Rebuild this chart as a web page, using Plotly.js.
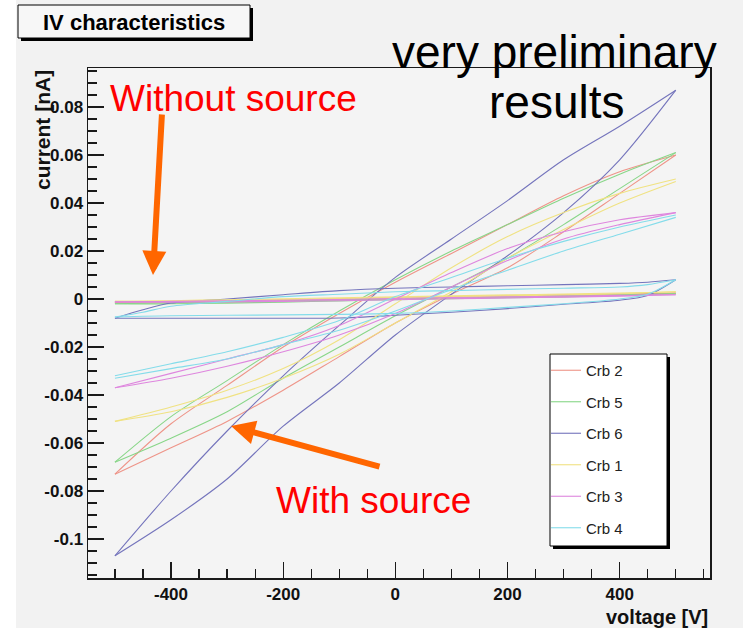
<!DOCTYPE html>
<html>
<head>
<meta charset="utf-8">
<script src="https://cdn.plot.ly/plotly-3.0.1.min.js"></script>
<style>
  html, body { margin: 0; padding: 0; background: #ffffff; }
  #chart { width: 743px; height: 628px; }
</style>
</head>
<body>
<div id="chart"></div>
<script>
// ---- sweep voltages [V] ----
const voltage     = [-500, -400, -300, -200, -100, 0, 100, 200, 300, 400, 500];
const voltageDark = [-500, -450, -400, -300, -200, -100, 0, 100, 200, 300, 400, 450, 500];

// ---- sensor names (legend order) ----
const sensors = ['Crb 2', 'Crb 5', 'Crb 6', 'Crb 1', 'Crb 3', 'Crb 4'];

// ---- current [nA] with source: branch A (one sweep direction), branch B (return) ----
const crb2SrcA = [-0.073, -0.052, -0.036, -0.020, -0.006, 0.007, 0.019, 0.031, 0.043, 0.053, 0.060];
const crb2SrcB = [-0.073, -0.062, -0.051, -0.038, -0.024, -0.010, 0.002, 0.013, 0.028, 0.044, 0.060];
const crb5SrcA = [-0.068, -0.049, -0.034, -0.019, -0.005, 0.008, 0.020, 0.031, 0.042, 0.052, 0.061];
const crb5SrcB = [-0.068, -0.058, -0.047, -0.033, -0.020, -0.007, 0.005, 0.017, 0.031, 0.046, 0.061];
const crb6SrcA = [-0.107, -0.080, -0.055, -0.032, -0.011, 0.009, 0.025, 0.041, 0.058, 0.072, 0.087];
const crb6SrcB = [-0.107, -0.092, -0.075, -0.053, -0.035, -0.015, 0.002, 0.018, 0.036, 0.058, 0.087];
const crb1SrcA = [-0.051, -0.045, -0.038, -0.029, -0.017, -0.002, 0.013, 0.026, 0.036, 0.044, 0.050];
const crb1SrcB = [-0.051, -0.047, -0.041, -0.033, -0.023, -0.010, 0.003, 0.017, 0.029, 0.040, 0.049];
const crb3SrcA = [-0.037, -0.031, -0.025, -0.019, -0.011, 0.000, 0.011, 0.021, 0.028, 0.033, 0.036];
const crb3SrcB = [-0.037, -0.033, -0.028, -0.022, -0.015, -0.006, 0.005, 0.016, 0.025, 0.031, 0.036];
const crb4SrcA = [-0.032, -0.027, -0.022, -0.016, -0.009, 0.001, 0.009, 0.017, 0.024, 0.030, 0.035];
const crb4SrcB = [-0.033, -0.029, -0.025, -0.019, -0.013, -0.005, 0.004, 0.012, 0.020, 0.027, 0.034];

// ---- current [nA] without source ----
const crb2DarkA = [-0.0015, -0.0013, -0.0011, -0.0007, -0.0003, 0.0001, 0.0005, 0.0009, 0.0013, 0.0017, 0.0021, 0.0023, 0.0025];
const crb2DarkB = [-0.0015, -0.0016, -0.0015, -0.0012, -0.0008, -0.0004, 0.0000, 0.0004, 0.0008, 0.0012, 0.0017, 0.0020, 0.0025];
const crb5DarkA = [-0.0020, -0.0018, -0.0016, -0.0012, -0.0008, -0.0003, 0.0002, 0.0006, 0.0010, 0.0014, 0.0018, 0.0020, 0.0022];
const crb5DarkB = [-0.0020, -0.0021, -0.0020, -0.0017, -0.0013, -0.0008, -0.0003, 0.0001, 0.0005, 0.0009, 0.0014, 0.0018, 0.0022];
const crb6DarkA = [-0.0080, -0.0045, -0.0017, 0.0000, 0.0018, 0.0035, 0.0045, 0.0050, 0.0055, 0.0060, 0.0065, 0.0070, 0.0080];
const crb6DarkB = [-0.0080, -0.0080, -0.0080, -0.0080, -0.0080, -0.0079, -0.0068, -0.0055, -0.0040, -0.0022, -0.0005, 0.0015, 0.0080];
const crb1DarkA = [-0.0010, -0.0009, -0.0007, -0.0003, 0.0001, 0.0005, 0.0009, 0.0013, 0.0017, 0.0021, 0.0025, 0.0027, 0.0030];
const crb1DarkB = [-0.0010, -0.0011, -0.0010, -0.0007, -0.0003, 0.0001, 0.0005, 0.0009, 0.0013, 0.0017, 0.0022, 0.0026, 0.0030];
const crb3DarkA = [-0.0012, -0.0011, -0.0010, -0.0008, -0.0005, -0.0002, 0.0002, 0.0006, 0.0009, 0.0012, 0.0015, 0.0017, 0.0018];
const crb3DarkB = [-0.0012, -0.0013, -0.0013, -0.0012, -0.0010, -0.0007, -0.0003, 0.0001, 0.0004, 0.0008, 0.0012, 0.0015, 0.0018];
const crb4DarkA = [-0.0075, -0.0055, -0.0030, -0.0010, 0.0010, 0.0020, 0.0030, 0.0035, 0.0040, 0.0045, 0.0050, 0.0060, 0.0080];
const crb4DarkB = [-0.0075, -0.0072, -0.0070, -0.0068, -0.0066, -0.0064, -0.0060, -0.0050, -0.0035, -0.0020, 0.0000, 0.0020, 0.0080];

// ---- axis tick labels ----
const xTickVals   = [-400, -200, 0, 200, 400];
const xTickLabels = ['-400', '-200', '0', '200', '400'];
const yTickVals   = [-0.1, -0.08, -0.06, -0.04, -0.02, 0, 0.02, 0.04, 0.06, 0.08];
const yTickLabels = ['-0.1', '-0.08', '-0.06', '-0.04', '-0.02', '0', '0.02', '0.04', '0.06', '0.08'];

// ---- line colours per sensor ----
const sensorColors = ['#ee9488', '#88d688', '#7474bc', '#f0e282', '#de86de', '#84dcea'];

const withSource    = [[crb2SrcA, crb2SrcB], [crb5SrcA, crb5SrcB], [crb6SrcA, crb6SrcB],
                       [crb1SrcA, crb1SrcB], [crb3SrcA, crb3SrcB], [crb4SrcA, crb4SrcB]];
const withoutSource = [[crb2DarkA, crb2DarkB], [crb5DarkA, crb5DarkB], [crb6DarkA, crb6DarkB],
                       [crb1DarkA, crb1DarkB], [crb3DarkA, crb3DarkB], [crb4DarkA, crb4DarkB]];

// one trace per sweep branch; the first branch of each sensor carries the legend entry
const traces = [];
sensors.forEach((name, i) => {
  const branches = [
    [voltage, withSource[i][0]], [voltage, withSource[i][1]],
    [voltageDark, withoutSource[i][0]], [voltageDark, withoutSource[i][1]]
  ];
  branches.forEach(([v, cur], k) => {
    traces.push({
      type: 'scatter', mode: 'lines', name: name, legendgroup: name,
      showlegend: k === 0,
      x: v, y: cur,
      line: {color: sensorColors[i], width: 1.1, shape: 'spline', smoothing: 0.8}
    });
  });
});

// ---- page geometry helpers (pixel -> paper fraction) ----
const W = 743, H = 628;
const M = {l: 88, r: 33, t: 68, b: 50};
const plotW = W - M.l - M.r;
const plotH = H - M.t - M.b;
const px = X => (X - M.l) / plotW;
const py = Y => (H - M.b - Y) / plotH;

const sans = 'Liberation Sans, Arial, Helvetica, sans-serif';
const axisFont = {family: sans, size: 17, color: '#111111', weight: 'bold'};
const frameColor = '#1a1a1a';

function box(x0, y0, x1, y1, fill, line) {
  return {
    type: 'rect', xref: 'paper', yref: 'paper', layer: 'above',
    x0: px(x0), x1: px(x1), y0: py(y1), y1: py(y0),
    fillcolor: fill, line: line ? {color: line, width: 1} : {width: 0}
  };
}

const layout = {
  width: W, height: H,
  margin: M,
  paper_bgcolor: '#f2f2f2',
  plot_bgcolor: '#f4f4f4',
  showlegend: true,
  xaxis: {
    range: [-548, 561],
    tickmode: 'array', tickvals: xTickVals, ticktext: xTickLabels,
    ticks: 'inside', ticklen: 16, tickwidth: 1.3, tickcolor: frameColor,
    minor: {tickmode: 'linear', tick0: 0, dtick: 50, ticks: 'inside', ticklen: 9, tickwidth: 1.2, tickcolor: frameColor, showgrid: false},
    tickfont: axisFont,
    showgrid: false, zeroline: false,
    showline: true, linecolor: frameColor, linewidth: 1.5, mirror: true
  },
  yaxis: {
    range: [-0.11625, 0.09625],
    tickmode: 'array', tickvals: yTickVals, ticktext: yTickLabels,
    ticks: 'inside', ticklen: 16, tickwidth: 1.3, tickcolor: frameColor,
    minor: {tickmode: 'linear', tick0: 0, dtick: 0.005, ticks: 'inside', ticklen: 9, tickwidth: 1.2, tickcolor: frameColor, showgrid: false},
    tickfont: axisFont,
    showgrid: false, zeroline: false,
    showline: true, linecolor: frameColor, linewidth: 1.5, mirror: true
  },
  // legend entries sit on the framed box drawn in shapes
  legend: {
    x: px(546), y: py(354), xanchor: 'left', yanchor: 'top',
    bgcolor: 'rgba(0,0,0,0)', borderwidth: 0,
    font: {family: sans, size: 15, color: '#222222'},
    traceorder: 'grouped', tracegroupgap: 9,
    itemwidth: 30
  },
  shapes: [
    // white slide margin at the left edge
    box(0, 0, 16, H, '#ffffff'),
    // title box with drop shadow
    box(21, 8, 253, 41, '#000000'),
    box(18, 5, 250, 38, '#f7f7f7', '#000000'),
    // legend frame with drop shadow
    box(553, 357, 670, 549, '#000000'),
    box(550, 354, 667, 546, '#ffffff', '#000000')
  ],
  annotations: [
    {text: 'IV characteristics', xref: 'paper', yref: 'paper', x: px(134), y: py(22),
     xanchor: 'center', yanchor: 'middle', showarrow: false,
     font: {family: sans, size: 22, color: '#000000', weight: 'bold'}},
    {text: 'very preliminary', xref: 'paper', yref: 'paper', x: px(554), y: py(52),
     xanchor: 'center', yanchor: 'middle', showarrow: false,
     font: {family: sans, size: 46, color: '#000000'}},
    {text: 'results', xref: 'paper', yref: 'paper', x: px(556), y: py(102),
     xanchor: 'center', yanchor: 'middle', showarrow: false,
     font: {family: sans, size: 46, color: '#000000'}},
    {text: 'Without source', xref: 'paper', yref: 'paper', x: px(233), y: py(98),
     xanchor: 'center', yanchor: 'middle', showarrow: false,
     font: {family: sans, size: 37, color: '#ff0000'}},
    {text: 'With source', xref: 'paper', yref: 'paper', x: px(373), y: py(500),
     xanchor: 'center', yanchor: 'middle', showarrow: false,
     font: {family: sans, size: 37, color: '#ff0000'}},
    {text: 'voltage [V]', xref: 'paper', yref: 'paper', x: px(710), y: py(617),
     xanchor: 'right', yanchor: 'middle', showarrow: false,
     font: {family: sans, size: 20, color: '#111111', weight: 'bold'}},
    {text: 'current [nA]', xref: 'paper', yref: 'paper', x: px(42), y: py(68),
     xanchor: 'center', yanchor: 'top', textangle: -90, showarrow: false,
     font: {family: sans, size: 21, color: '#111111', weight: 'bold'}},
    // orange pointers
    {text: '', xref: 'paper', yref: 'paper', x: px(153), y: py(275),
     showarrow: true, ax: 9, ay: -162, arrowhead: 2, arrowsize: 0.8, arrowwidth: 6,
     arrowcolor: '#ff6600', standoff: 0},
    {text: '', xref: 'paper', yref: 'paper', x: px(231), y: py(426),
     showarrow: true, ax: 150, ay: 41, arrowhead: 2, arrowsize: 0.8, arrowwidth: 6,
     arrowcolor: '#ff6600', standoff: 0}
  ]
};

Plotly.newPlot('chart', traces, layout, {staticPlot: true, displayModeBar: false});
</script>
</body>
</html>
